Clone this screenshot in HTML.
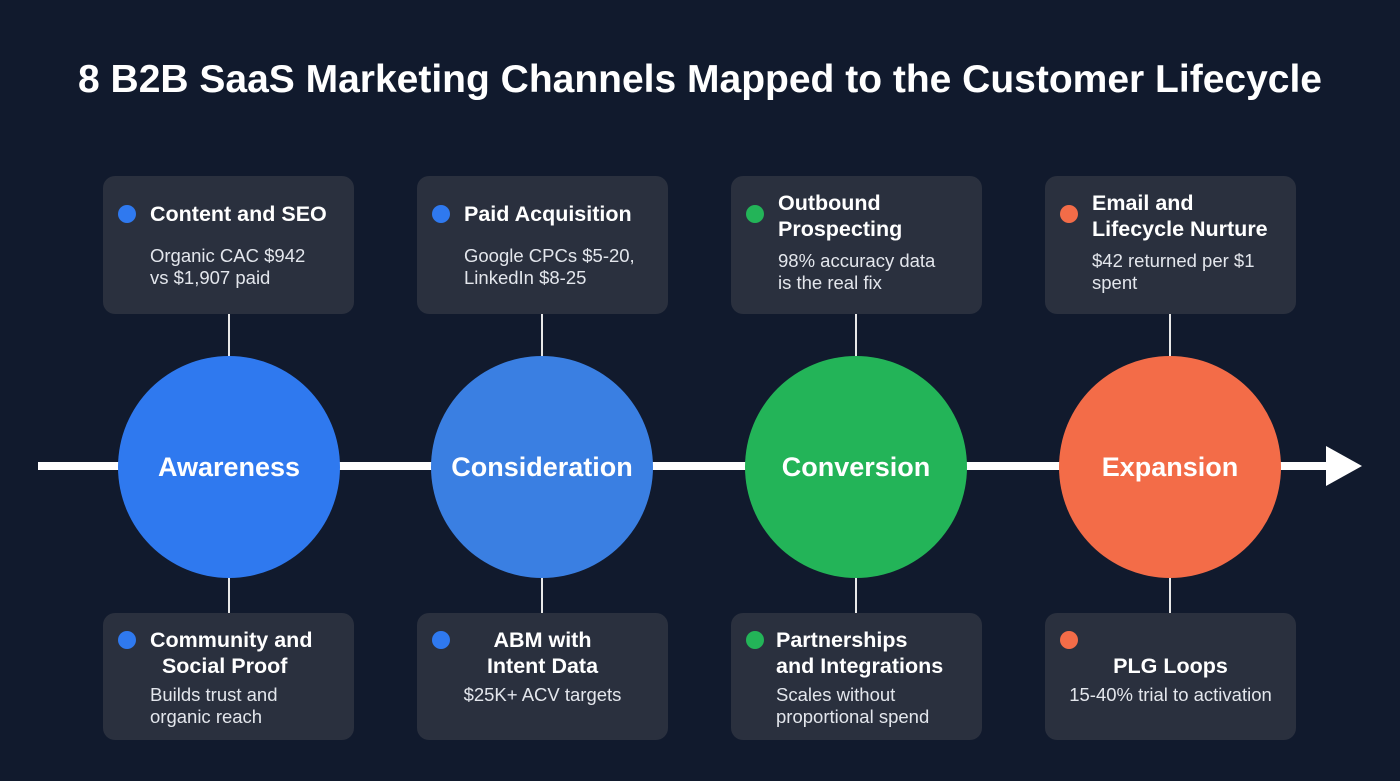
<!DOCTYPE html>
<html><head><meta charset="utf-8"><style>
body{margin:0;width:1400px;height:781px;background:#111a2d;font-family:"Liberation Sans",sans-serif;position:relative;overflow:hidden;color:#fff}
.t{position:absolute;left:0;width:1400px;top:58px;text-align:center;font-size:39px;font-weight:bold;color:#fff}
.card{position:absolute;width:251px;background:#2a303e;border-radius:12px}
.h{position:absolute;font-weight:bold;font-size:21.5px;line-height:26px;color:#fff}
.b{position:absolute;font-size:18.5px;line-height:22px;color:#e3e6ec}
.dot{position:absolute;width:18px;height:18px;border-radius:50%}
.c{position:absolute;width:222px;height:222px;border-radius:50%;top:356px;display:flex;align-items:center;justify-content:center;font-weight:bold;font-size:27px}
.v{position:absolute;width:2px;background:#e8e8e8}
</style></head><body>
<div class="t">8 B2B SaaS Marketing Channels Mapped to the Customer Lifecycle</div>
<div style="position:absolute;left:38px;top:462px;width:1300px;height:8px;background:#fff"></div>
<svg style="position:absolute;left:1326px;top:446px" width="38" height="40"><polygon points="0,0 36,20 0,40" fill="#fff"/></svg>

<div class="v" style="left:228px;top:314px;height:44px"></div>
<div class="v" style="left:541px;top:314px;height:44px"></div>
<div class="v" style="left:855px;top:314px;height:44px"></div>
<div class="v" style="left:1169px;top:314px;height:44px"></div>
<div class="v" style="left:228px;top:576px;height:38px"></div>
<div class="v" style="left:541px;top:576px;height:38px"></div>
<div class="v" style="left:855px;top:576px;height:38px"></div>
<div class="v" style="left:1169px;top:576px;height:38px"></div>

<div class="c" style="left:118px;background:#2f79ef">Awareness</div>
<div class="c" style="left:431px;background:#3a7fe2">Consideration</div>
<div class="c" style="left:745px;background:#23b458">Conversion</div>
<div class="c" style="left:1059px;background:#f36c48">Expansion</div>

<div class="card" style="left:103px;top:176px;height:138px"></div>
<div class="dot" style="left:118px;top:205px;background:#2f79ef"></div>
<div class="h" style="left:150px;top:201px">Content and SEO</div>
<div class="b" style="left:150px;top:245px">Organic CAC $942<br>vs $1,907 paid</div>

<div class="card" style="left:417px;top:176px;height:138px"></div>
<div class="dot" style="left:432px;top:205px;background:#2f79ef"></div>
<div class="h" style="left:464px;top:201px">Paid Acquisition</div>
<div class="b" style="left:464px;top:245px">Google CPCs $5-20,<br>LinkedIn $8-25</div>

<div class="card" style="left:731px;top:176px;height:138px"></div>
<div class="dot" style="left:746px;top:205px;background:#23b458"></div>
<div class="h" style="left:778px;top:190px">Outbound<br>Prospecting</div>
<div class="b" style="left:778px;top:250px">98% accuracy data<br>is the real fix</div>

<div class="card" style="left:1045px;top:176px;height:138px"></div>
<div class="dot" style="left:1060px;top:205px;background:#f36c48"></div>
<div class="h" style="left:1092px;top:190px">Email and<br>Lifecycle Nurture</div>
<div class="b" style="left:1092px;top:250px">$42 returned per $1<br>spent</div>

<div class="card" style="left:103px;top:613px;height:127px"></div>
<div class="dot" style="left:118px;top:631px;background:#2f79ef"></div>
<div class="h" style="left:150px;top:627px">Community and<br>&nbsp;&nbsp;Social Proof</div>
<div class="b" style="left:150px;top:684px">Builds trust and<br>organic reach</div>

<div class="card" style="left:417px;top:613px;height:127px"></div>
<div class="dot" style="left:432px;top:631px;background:#2f79ef"></div>
<div class="h" style="left:417px;width:251px;text-align:center;top:627px">ABM with<br>Intent Data</div>
<div class="b" style="left:417px;width:251px;text-align:center;top:684px">$25K+ ACV targets</div>

<div class="card" style="left:731px;top:613px;height:127px"></div>
<div class="dot" style="left:746px;top:631px;background:#23b458"></div>
<div class="h" style="left:776px;top:627px">Partnerships<br>and Integrations</div>
<div class="b" style="left:776px;top:684px">Scales without<br>proportional spend</div>

<div class="card" style="left:1045px;top:613px;height:127px"></div>
<div class="dot" style="left:1060px;top:631px;background:#f36c48"></div>
<div class="h" style="left:1045px;width:251px;text-align:center;top:653px">PLG Loops</div>
<div class="b" style="left:1045px;width:251px;text-align:center;top:684px">15-40% trial to activation</div>
</body></html>
